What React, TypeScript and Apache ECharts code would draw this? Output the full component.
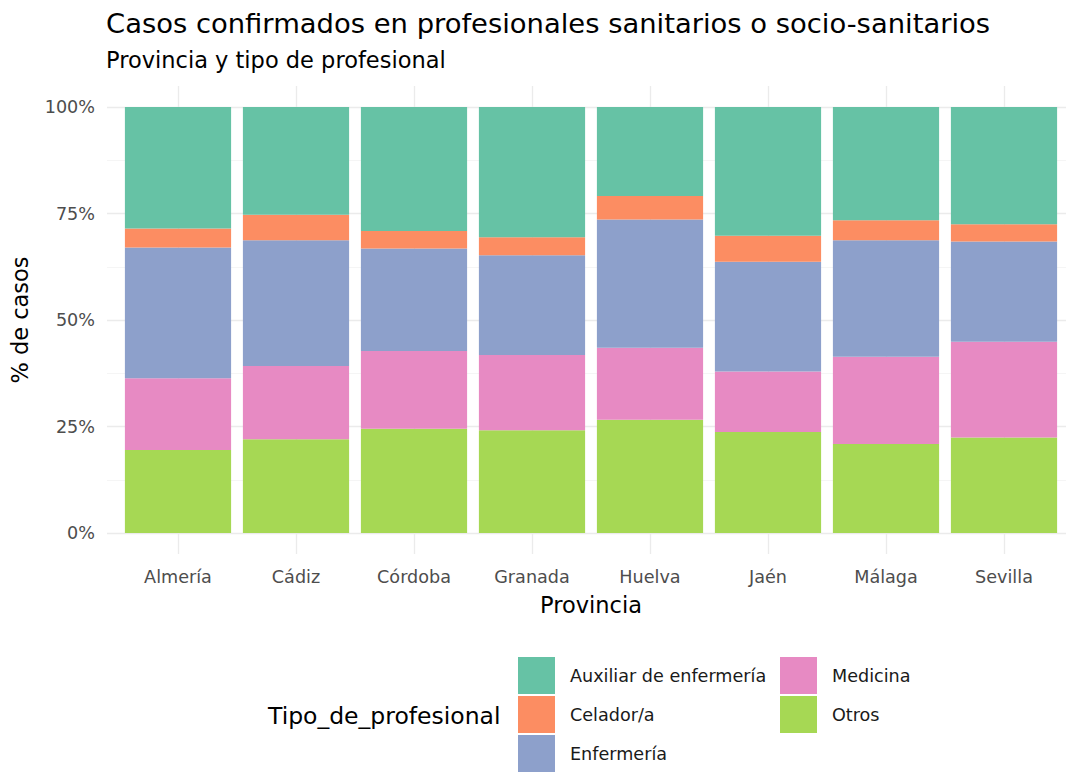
import React, { useEffect, useRef } from "react";
import * as echarts from "echarts";

const provincias = ["Almería", "Cádiz", "Córdoba", "Granada", "Huelva", "Jaén", "Málaga", "Sevilla"];
const tipos = ["Auxiliar de enfermería", "Celador/a", "Enfermería", "Medicina", "Otros"];
const colores = ["#66C2A5", "#FC8D62", "#8DA0CB", "#E78AC3", "#A6D854"];

// percentages per province
const auxiliar = [28.5, 25.3, 29.1, 30.6, 20.9, 30.2, 26.6, 27.5];
const celador = [4.5, 6.0, 4.1, 4.2, 5.5, 6.1, 4.7, 4.1];
const enfermeria = [30.7, 29.5, 24.1, 23.4, 30.1, 25.8, 27.3, 23.5];
const medicina = [16.8, 17.2, 18.2, 17.7, 16.9, 14.2, 20.5, 22.5];
const otros = [19.5, 22.0, 24.5, 24.1, 26.6, 23.7, 20.9, 22.4];

const yTicks = [0, 25, 50, 75, 100];

const FONT = "DejaVu Sans";

export default function App() {
  const ref = useRef<HTMLDivElement>(null);
  useEffect(() => {
    if (!ref.current) return;
    const chart = echarts.init(ref.current, undefined, { renderer: "svg" });
    // bottom-to-top stacking order
    const stackOrder: [string, number[], string][] = [
      [tipos[4], otros, colores[4]],
      [tipos[3], medicina, colores[3]],
      [tipos[2], enfermeria, colores[2]],
      [tipos[1], celador, colores[1]],
      [tipos[0], auxiliar, colores[0]],
    ];
    const legendText = {
      fontFamily: FONT,
      fontSize: 17.6,
      color: "#1a1a1a",
      padding: [0, 0, 0, 10],
    };
    chart.setOption({
      animation: false,
      backgroundColor: "#ffffff",
      textStyle: { fontFamily: FONT },
      title: [
        {
          text: "Casos confirmados en profesionales sanitarios o socio-sanitarios",
          left: 106,
          top: 10,
          padding: 0,
          textStyle: { fontFamily: FONT, fontSize: 27.4, fontWeight: "normal", color: "#000000" },
        },
        {
          text: "Provincia y tipo de profesional",
          left: 106,
          top: 48,
          padding: 0,
          textStyle: { fontFamily: FONT, fontSize: 22.5, fontWeight: "normal", color: "#000000" },
        },
      ],
      grid: [
        { left: 119, width: 944, top: 107, height: 426 },
        { left: 107, width: 959, top: 107, height: 426 },
        { left: 178, width: 826, top: 86, height: 468 },
      ],
      xAxis: [
        {
          type: "category",
          gridIndex: 0,
          data: provincias,
          axisLine: { show: false },
          axisTick: { show: false },
          splitLine: { show: false },
          axisLabel: {
            interval: 0,
            margin: 35,
            fontFamily: FONT,
            fontSize: 17.6,
            color: "#4D4D4D",
          },
          name: "Provincia",
          nameLocation: "middle",
          nameGap: 60,
          nameTextStyle: { fontFamily: FONT, fontSize: 22.5, color: "#000000" },
        },
        { type: "value", gridIndex: 1, show: false },
        {
          type: "category",
          gridIndex: 2,
          data: provincias,
          boundaryGap: false,
          axisLine: { show: false },
          axisTick: { show: false },
          axisLabel: { show: false, interval: 0 },
          splitLine: { show: true, interval: 0, lineStyle: { color: "#EBEBEB", width: 1.3 } },
        },
      ],
      yAxis: [
        { type: "value", gridIndex: 0, min: 0, max: 100, show: false },
        {
          type: "value",
          gridIndex: 1,
          min: 0,
          max: 100,
          interval: 25,
          axisLine: { show: false },
          axisTick: { show: false },
          axisLabel: {
            margin: 12,
            fontFamily: FONT,
            fontSize: 17.6,
            color: "#4D4D4D",
            formatter: (v: number) => (yTicks.indexOf(v) >= 0 ? v + "%" : ""),
          },
          splitLine: { show: true, lineStyle: { color: "#EBEBEB", width: 1.3 } },
          minorTick: { show: false, splitNumber: 2 },
          minorSplitLine: { show: true, lineStyle: { color: "#F2F2F2", width: 0.8 } },
          name: "% de casos",
          nameLocation: "middle",
          nameRotate: 90,
          nameGap: 76,
          nameTextStyle: { fontFamily: FONT, fontSize: 22.5, color: "#000000" },
        },
        { type: "value", gridIndex: 2, min: 0, max: 1, show: false },
      ],
      legend: [
        {
          orient: "vertical",
          left: 518,
          top: 657,
          height: 130,
          itemWidth: 37,
          itemHeight: 37,
          itemGap: 2,
          icon: "rect",
          padding: 0,
          data: [tipos[0], tipos[1], tipos[2]],
          textStyle: legendText,
          selectedMode: false,
        },
        {
          orient: "vertical",
          left: 780,
          top: 657,
          height: 130,
          itemWidth: 37,
          itemHeight: 37,
          itemGap: 2,
          icon: "rect",
          padding: 0,
          data: [tipos[3], tipos[4]],
          textStyle: legendText,
          selectedMode: false,
        },
      ],
      graphic: [
        {
          type: "text",
          left: 268,
          top: 704,
          style: {
            text: "Tipo_de_profesional",
            font: `23.5px '${FONT}'`,
            fill: "#000000",
          },
        },
      ],
      series: stackOrder.map(([name, data, color]) => ({
        name,
        type: "bar",
        stack: "total",
        xAxisIndex: 0,
        yAxisIndex: 0,
        data,
        barCategoryGap: "10%",
        itemStyle: { color },
        emphasis: { disabled: true },
      })),
    });
    return () => chart.dispose();
  }, []);
  return (
    <div
      ref={ref}
      style={{ position: "fixed", left: 0, top: 0, width: 1066, height: 773 }}
    />
  );
}
